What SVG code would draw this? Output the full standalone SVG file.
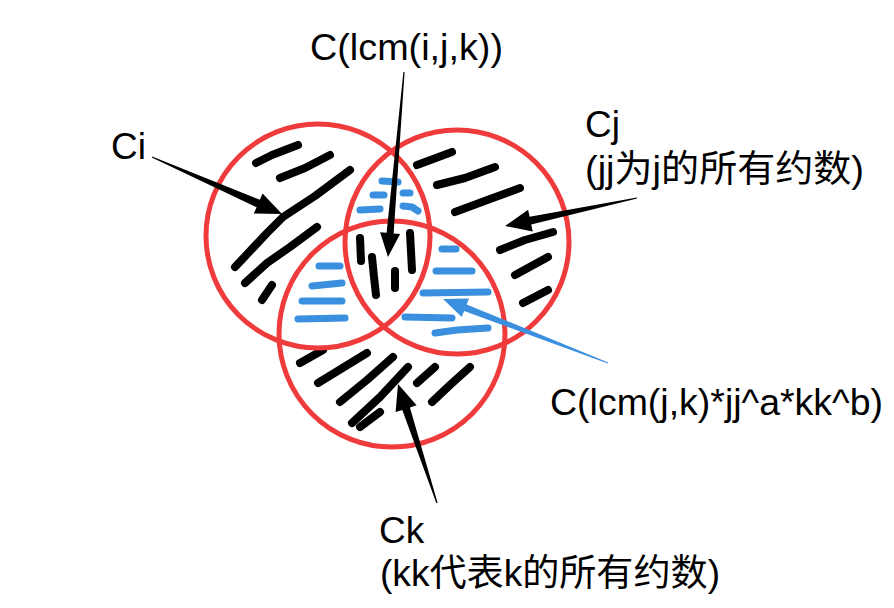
<svg xmlns="http://www.w3.org/2000/svg" width="894" height="608" viewBox="0 0 894 608">
<style>
.ring{fill:none;stroke:#ef3b3b;stroke-width:5}
.hk{fill:none;stroke:#000;stroke-width:8;stroke-linecap:round;stroke-linejoin:round}
.hb{fill:none;stroke:#3a8fdf;stroke-width:7;stroke-linecap:round;stroke-linejoin:round}
.lbl{font-family:"Liberation Sans","Noto Sans CJK SC",sans-serif;font-size:37px;fill:#000}
.ak{fill:#000}
.ab{fill:#3a8fdf}
</style>
<rect width="894" height="608" fill="#fff"/>
<g id="hatch-Ci">
<polyline class="hk" points="256,163 272,155 298,145"/>
<polyline class="hk" points="280,178 305,168 330,155"/>
<polyline class="hk" points="235,267 267,233 283,217 315,196 350,170"/>
<polyline class="hk" points="245,283 267,263 290,247 317,227"/>
<polyline class="hk" points="262,300 272,285"/>
</g>
<g id="hatch-Cj">
<polyline class="hk" points="417,165 452,152"/>
<polyline class="hk" points="437,185 465,178 495,167"/>
<polyline class="hk" points="455,212 490,199 520,188"/>
<polyline class="hk" points="500,250 525,240 553,232"/>
<polyline class="hk" points="515,275 548,257"/>
<polyline class="hk" points="523,303 548,290"/>
</g>
<g id="hatch-Ck">
<polyline class="hk" points="300,363 323,350"/>
<polyline class="hk" points="318,383 367,353"/>
<polyline class="hk" points="340,402 367,380 393,357"/>
<polyline class="hk" points="352,423 380,397 408,367"/>
<polyline class="hk" points="360,427 380,412"/>
<polyline class="hk" points="417,383 435,367"/>
<polyline class="hk" points="432,402 450,385 470,367"/>
</g>
<g id="hatch-CiCj">
<polyline class="hb" points="382,181 398,182"/>
<polyline class="hb" points="373,195 384,195"/>
<polyline class="hb" points="403,193 410,193"/>
<polyline class="hb" points="360,210 380,209"/>
<polyline class="hb" points="403,206 412,207 418,211"/>
</g>
<g id="hatch-CiCk">
<polyline class="hb" points="319,266 340,266"/>
<polyline class="hb" points="312,286 342,283"/>
<polyline class="hb" points="302,301 342,301"/>
<polyline class="hb" points="298,319 345,318"/>
</g>
<g id="hatch-CjCk">
<polyline class="hb" points="442,249 456,249"/>
<polyline class="hb" points="436,271 472,271"/>
<polyline class="hb" points="423,293 488,292"/>
<polyline class="hb" points="405,317 452,318"/>
<polyline class="hb" points="435,333 457,330 488,328"/>
</g>
<g id="hatch-CiCjCk">
<polyline class="hk" points="360,238 361,261"/>
<polyline class="hk" points="372,257 374,277 376,295"/>
<polyline class="hk" points="395,271 395,288"/>
<polyline class="hk" points="410,233 412,270"/>
</g>
<g id="Ci">
<circle class="ring" cx="318" cy="236" r="112"/>
<text class="lbl" x="111" y="159">Ci</text>
</g>
<g id="Cj">
<circle class="ring" cx="457" cy="242" r="112"/>
<text class="lbl" x="585" y="137">Cj</text>
<text class="lbl" x="585" y="182" textLength="279" lengthAdjust="spacingAndGlyphs">(jj为j的所有约数)</text>
</g>
<g id="Ck">
<circle class="ring" cx="392" cy="334" r="113"/>
<text class="lbl" x="379" y="543">Ck</text>
<text class="lbl" x="380" y="586" textLength="340" lengthAdjust="spacingAndGlyphs">(kk代表k的所有约数)</text>
</g>
<g id="label-ijk">
<text class="lbl" x="310" y="60" textLength="193" lengthAdjust="spacingAndGlyphs">C(lcm(i,j,k))</text>
</g>
<g id="label-jk">
<text class="lbl" x="550" y="415" textLength="333" lengthAdjust="spacingAndGlyphs">C(lcm(j,k)*jj^a*kk^b)</text>
</g>
<g id="connectors">
<polygon class="ak" points="152.2,156.5 259.8,199.8 262.6,193.4 282,214 253.8,213.6 256.6,207.2 151.8,157.5"/>
<polygon class="ak" points="403.4,71.9 386.6,232.8 380.1,232.2 388,257 400.1,234 393.6,233.4 404.6,72.1"/>
<polygon class="ak" points="636.9,197.4 529.6,216.7 528.1,209.8 505,226 532.7,231.4 531.2,224.5 637.1,198.6"/>
<polygon class="ak" points="437.6,502.8 409.9,407.5 416.6,405.3 398,384 395.6,412.1 402.3,409.9 436.4,503.2"/>
<polygon class="ab" points="608.2,362.4 466.7,304.4 469,298.4 443,299 461.8,317 464.1,311 607.8,363.6"/>
</g>
</svg>
